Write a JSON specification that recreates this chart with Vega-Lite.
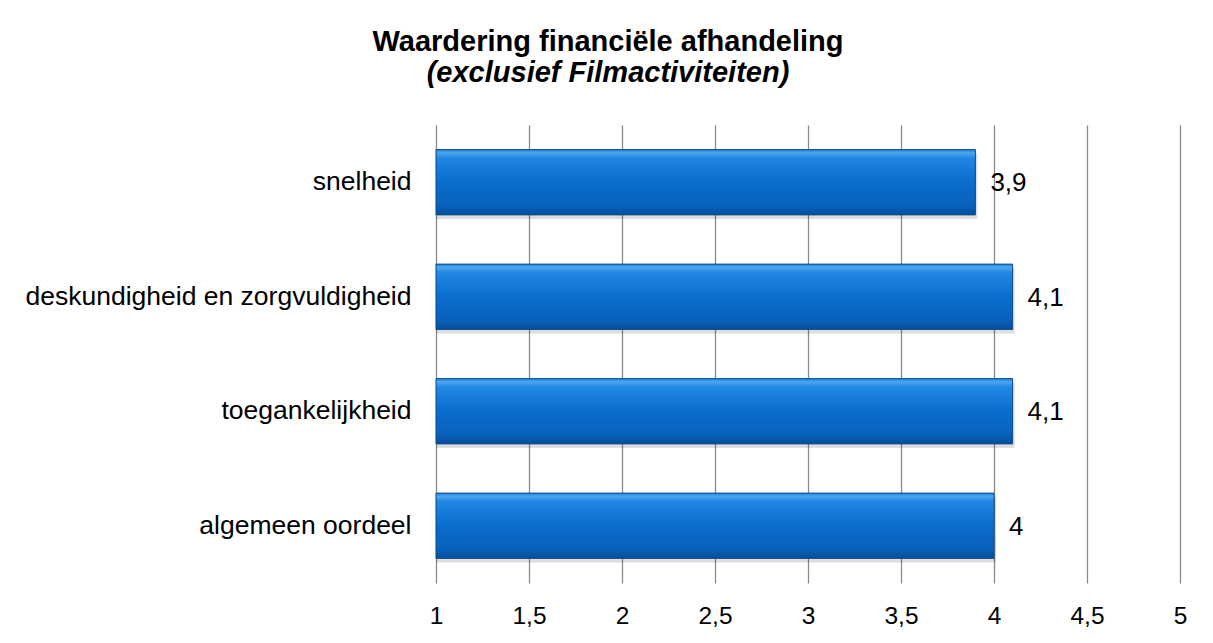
{
  "$schema": "https://vega.github.io/schema/vega-lite/v6.json",
  "width": 744,
  "height": 458,
  "autosize": {"type": "none"},
  "padding": {"left": 436, "top": 125, "right": 33, "bottom": 60},
  "background": "white",
  "config": {
    "view": {"stroke": null},
    "font": "Liberation Sans",
    "locale": {"number": {"decimal": ",", "thousands": ".", "grouping": [3], "currency": ["€", ""]}}
  },
  "title": {
    "text": "Waardering financiële afhandeling",
    "subtitle": "(exclusief Filmactiviteiten)",
    "anchor": "middle",
    "frame": "group",
    "dx": -200,
    "offset": 37,
    "font": "Liberation Sans",
    "fontSize": 29,
    "fontWeight": "bold",
    "color": "#000000",
    "subtitleFont": "Liberation Sans",
    "subtitleFontSize": 29,
    "subtitleFontWeight": "bold",
    "subtitleFontStyle": "italic",
    "subtitleColor": "#000000",
    "subtitlePadding": 2
  },
  "data": {
    "values": [
      {"aspect": "snelheid", "score": 3.9},
      {"aspect": "deskundigheid en zorgvuldigheid", "score": 4.1},
      {"aspect": "toegankelijkheid", "score": 4.1},
      {"aspect": "algemeen oordeel", "score": 4.0}
    ]
  },
  "encoding": {
    "y": {
      "field": "aspect",
      "type": "nominal",
      "sort": null,
      "scale": {"paddingInner": 0.43, "paddingOuter": 0.215},
      "axis": {
        "title": null,
        "domain": false,
        "ticks": false,
        "labelPadding": 25,
        "labelFontSize": 26.5,
        "labelColor": "#000000",
        "labelFont": "Liberation Sans",
        "labelLimit": 500
      }
    },
    "x": {
      "field": "score",
      "type": "quantitative",
      "scale": {"domain": [1, 5], "zero": false, "nice": false},
      "axis": {
        "title": null,
        "values": [1, 1.5, 2, 2.5, 3, 3.5, 4, 4.5, 5],
        "format": ".1~f",
        "domain": false,
        "ticks": false,
        "grid": true,
        "gridColor": "#8a8a8a",
        "gridWidth": 1.3,
        "labelPadding": 21,
        "labelFontSize": 24.5,
        "labelColor": "#000000",
        "labelFont": "Liberation Sans",
        "labelFlush": false
      }
    },
    "x2": {"datum": 1}
  },
  "layer": [
    {
      "mark": {"type": "bar", "color": "#000000", "opacity": 0.13, "yOffset": 4, "xOffset": 2}
    },
    {
      "mark": {
        "type": "bar",
        "stroke": "#0a4c90",
        "strokeWidth": 1,
        "color": {
          "gradient": "linear",
          "x1": 0, "y1": 0, "x2": 0, "y2": 1,
          "stops": [
            {"offset": 0, "color": "#1e7fdc"},
            {"offset": 0.05, "color": "#4ea6f0"},
            {"offset": 0.13, "color": "#2087e2"},
            {"offset": 0.5, "color": "#0a6dcd"},
            {"offset": 0.85, "color": "#0862bc"},
            {"offset": 1, "color": "#054d98"}
          ]
        }
      }
    },
    {
      "mark": {"type": "text", "align": "left", "baseline": "middle", "dx": 15, "dy": 1, "fontSize": 26, "color": "#000000", "font": "Liberation Sans"},
      "encoding": {
        "x": {"field": "score", "type": "quantitative"},
        "x2": null,
        "text": {"field": "score", "type": "quantitative", "format": ".1~f"}
      }
    }
  ]
}
